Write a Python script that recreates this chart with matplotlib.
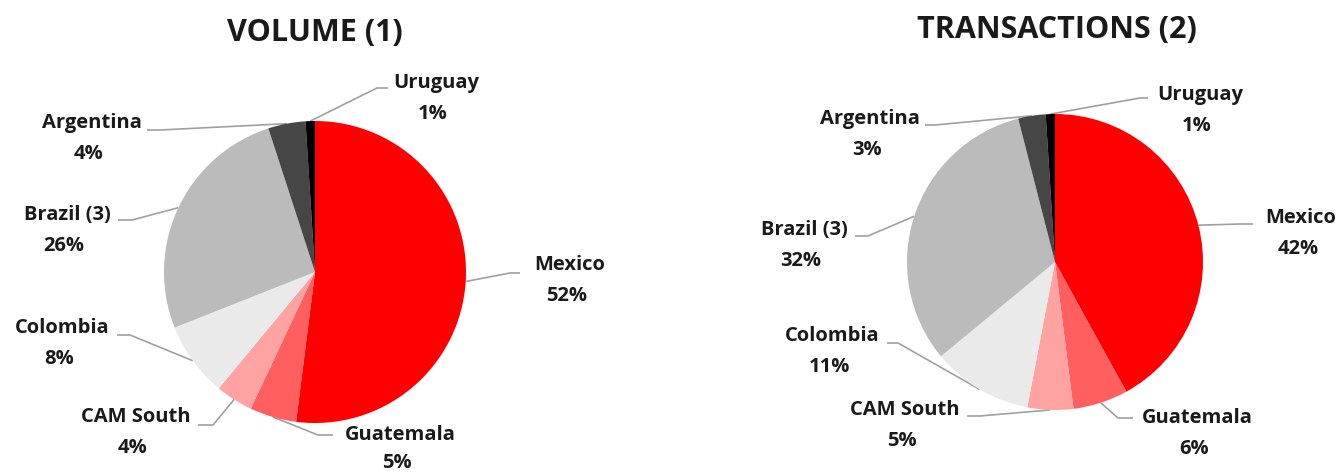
import numpy as np
import matplotlib
matplotlib.use('Agg')
import matplotlib.pyplot as plt

W, H = 1340, 473

countries = ['Mexico', 'Guatemala', 'CAM South', 'Colombia', 'Brazil (3)', 'Argentina', 'Uruguay']
volume = [52, 5, 4, 8, 26, 4, 1]
transactions = [42, 6, 5, 11, 32, 3, 1]
titles = ['VOLUME (1)', 'TRANSACTIONS (2)']

colors = ['#FF0000', '#FF5F5F', '#FFA2A2', '#EAEAEA', '#BBBBBB', '#464646', '#000000']
text_color = '#1A1A1A'
line_color = '#A0A0A0'
font = ['Open Sans', 'DejaVu Sans']

# layout in pixels, measured top-down: pie centre, radius, title centre
pies = [
    dict(values=volume, title=titles[0], cx=315, cy=272, r=151, title_xy=(315, 33),
         # label name centre (x, y), leader attach point (x, y), elbow dx
         labels=[((570, 265), (520, 273), -10),
                 ((400, 435), (333, 435), -15),
                 ((136, 417), (198, 425), 15),
                 ((62, 328), (117, 335), 13),
                 ((67, 215), (118, 220), 14),
                 ((92, 123), (147, 130), 13),
                 ((436, 83), (388, 88), -11)]),
    dict(values=transactions, title=titles[1], cx=1055, cy=262, r=148, title_xy=(1057, 30),
         labels=[((1301, 218), (1253, 224), -13),
                 ((1197, 418), (1133, 418), -15),
                 ((905, 410), (967, 416), 13),
                 ((832, 336), (887, 343), 11),
                 ((804, 230), (855, 236), 13),
                 ((870, 119), (925, 125), 10),
                 ((1200, 95), (1148, 98), -8)]),
]

fig = plt.figure(figsize=(W / 100, H / 100), dpi=100)
ax = fig.add_axes([0, 0, 1, 1])

for p in pies:
    wedges, _ = ax.pie(p['values'], colors=colors, startangle=90, counterclock=False,
                       center=(p['cx'], H - p['cy']), radius=p['r'],
                       wedgeprops=dict(linewidth=0))
    tx, ty = p['title_xy']
    ax.text(tx, H - ty, p['title'], ha='center', va='center', fontsize=22,
            fontweight='bold', color=text_color, family=font)
    for w, name, val, (name_xy, attach, edx) in zip(wedges, countries, p['values'], p['labels']):
        mid = np.deg2rad((w.theta1 + w.theta2) / 2)
        ex = p['cx'] + p['r'] * np.cos(mid)
        ey = (H - p['cy']) + p['r'] * np.sin(mid)
        ax.plot([attach[0], attach[0] + edx, ex],
                [H - attach[1], H - attach[1], ey],
                color=line_color, linewidth=1.2, solid_capstyle='butt', zorder=0.5)
        ax.text(name_xy[0], H - name_xy[1], name, ha='center', va='center',
                fontsize=14.5, fontweight='bold', color=text_color, family=font)
        # keep the lowest percent label just inside the canvas
        pct_y = min(name_xy[1] + 31, H - 10)
        ax.text(name_xy[0] - 3, H - pct_y, f'{val}%', ha='center', va='center',
                fontsize=14.5, fontweight='bold', color=text_color, family=font)

ax.set_xlim(0, W)
ax.set_ylim(0, H)
ax.set_aspect('auto')
ax.axis('off')

fig.savefig('out.png', dpi=100, facecolor='white')
plt.close(fig)
